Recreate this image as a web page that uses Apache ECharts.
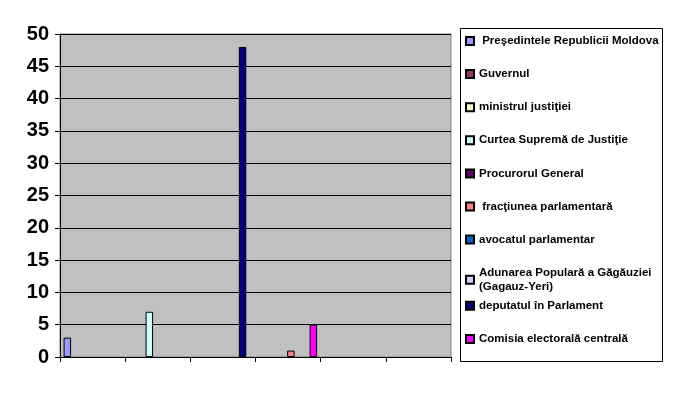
<!DOCTYPE html>
<html>
<head>
<meta charset="utf-8">
<script src="https://cdn.jsdelivr.net/npm/echarts@6/dist/echarts.min.js"></script>
<style>
html,body{margin:0;padding:0;background:#fff;}
#chart{width:673px;height:394px;}
</style>
</head>
<body>
<div id="chart"></div>
<script>
// Categories (unlabelled in the original)
const categories = ['', '', '', '', '', ''];

// Y axis ticks
const yMin = 0, yMax = 50, yStep = 5;

// Series names (legend)
const seriesNames = [
  ' Preşedintele Republicii Moldova',
  'Guvernul',
  'ministrul justiţiei',
  'Curtea Supremă de Justiţie',
  'Procurorul General',
  ' fracţiunea parlamentară',
  'avocatul parlamentar',
  'Adunarea Populară a Găgăuziei (Gagauz-Yeri)',
  'deputatul în Parlament',
  'Comisia electorală centrală'
];

// Series values per category
const presedintele   = [3, 0, 0, 0, 0, 0];
const guvernul       = [0, 0, 0, 0, 0, 0];
const ministrul      = [0, 0, 0, 0, 0, 0];
const curteaSuprema  = [0, 7, 0, 0, 0, 0];
const procurorul     = [0, 0, 0, 0, 0, 0];
const fractiunea     = [0, 0, 0, 1, 0, 0];
const avocatul       = [0, 0, 0, 0, 0, 0];
const adunarea       = [0, 0, 0, 0, 0, 0];
const deputatul      = [0, 0, 48, 0, 0, 0];
const comisia        = [0, 0, 0, 5, 0, 0];

const seriesValues = [presedintele, guvernul, ministrul, curteaSuprema, procurorul,
                      fractiunea, avocatul, adunarea, deputatul, comisia];

const colors = ['#9999FF', '#993366', '#FFFFCC', '#CCFFFF', '#660066',
                '#FF8080', '#0066CC', '#CCCCFF', '#000080', '#FF00FF'];

const chart = echarts.init(document.getElementById('chart'), null, {renderer: 'canvas'});

const legendFont = {
  fontFamily: '"Liberation Sans", Arial, sans-serif',
  fontWeight: 'bold',
  fontSize: 11.5,
  color: '#000',
  lineHeight: 14
};

const option = {
  animation: false,
  backgroundColor: '#fff',
  color: colors,
  grid: {
    left: 60, right: 222, top: 34, bottom: 37,
    show: true,
    backgroundColor: '#C0C0C0',
    borderColor: '#808080',
    borderWidth: 1
  },
  graphic: [{
    type: 'rect',
    left: 460, top: 28,
    shape: {width: 202, height: 333},
    style: {fill: '#fff', stroke: '#000', lineWidth: 1},
    z: 0
  }],
  legend: seriesNames.map((n, i) => ({
    data: [n],
    orient: 'vertical',
    left: 465,
    top: 34 + i * 33.1,
    padding: 0,
    itemWidth: 8,
    itemHeight: 8,
    itemGap: 0,
    icon: 'rect',
    selectedMode: true,
    formatter: name => name.replace(' (Gagauz', '\n(Gagauz'),
    textStyle: legendFont,
    z: 5
  })),
  xAxis: {
    type: 'category',
    data: categories,
    boundaryGap: true,
    axisLine: {show: true, lineStyle: {color: '#000', width: 1}},
    axisTick: {show: true, length: 5, alignWithLabel: false, lineStyle: {color: '#000'}},
    axisLabel: {show: false},
    splitLine: {show: false}
  },
  yAxis: {
    type: 'value',
    min: yMin, max: yMax, interval: yStep,
    axisLine: {show: true, lineStyle: {color: '#000', width: 1}},
    axisTick: {show: true, length: 5, lineStyle: {color: '#000'}},
    axisLabel: {
      margin: 11,
      fontFamily: '"Liberation Sans", Arial, sans-serif',
      fontWeight: 'bold',
      fontSize: 20,
      color: '#000'
    },
    splitLine: {show: true, lineStyle: {color: '#000', width: 1}}
  },
  series: seriesNames.map((n, i) => ({
    name: n,
    type: 'bar',
    barGap: '-25%',
    barCategoryGap: '11%',
    data: seriesValues[i].map(v => (v === 0 ? null : v)),
    itemStyle: {color: colors[i], borderColor: '#000', borderWidth: 1}
  }))
};

chart.setOption(option);
</script>
</body>
</html>
